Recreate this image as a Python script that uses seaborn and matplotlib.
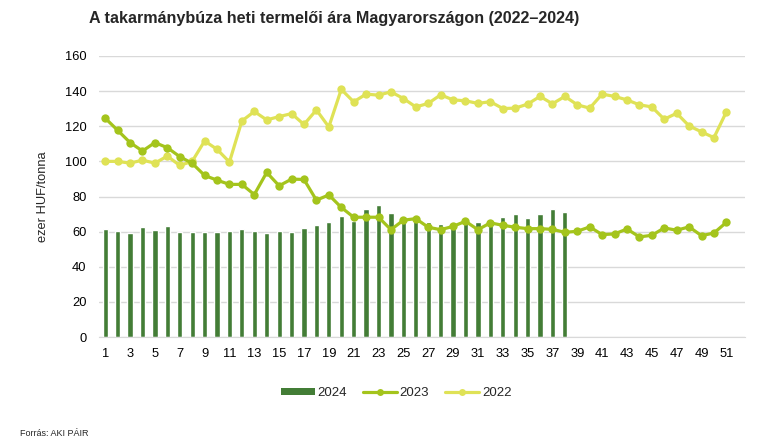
import numpy as np
import pandas as pd
import matplotlib
matplotlib.use("Agg")
import matplotlib.pyplot as plt
import seaborn as sns
from matplotlib.patches import Patch
from matplotlib.lines import Line2D

weeks_2024 = list(range(1, 39))
price_2024 = [61.7, 60.2, 59.2, 62.7, 61.1, 63.4, 59.8, 59.8, 59.6, 59.6,
              60.2, 61.7, 60.6, 59.2, 60.6, 59.6, 62.1, 64.0, 65.5, 68.8,
              66.3, 73.1, 75.0, 70.7, 66.0, 67.0, 65.3, 64.4, 62.5, 66.0,
              65.3, 65.8, 68.4, 70.1, 67.8, 70.1, 72.6, 71.3]

weeks_lines = list(range(1, 52))
price_2023 = [124.6, 117.7, 110.7, 105.9, 110.7, 107.8, 102.7, 98.9, 92.0, 89.3,
              86.9, 86.9, 81.1, 93.7, 86.1, 89.9, 89.7, 77.9, 80.9, 73.8,
              68.2, 68.2, 68.2, 61.1, 66.5, 67.4, 62.5, 61.1, 63.0, 65.9,
              61.1, 65.0, 63.6, 62.5, 61.7, 61.7, 61.3, 59.6, 60.2, 62.7,
              58.3, 58.7, 61.5, 57.0, 57.9, 62.1, 60.8, 62.7, 57.7, 59.2,
              65.3]
price_2022 = [100.0, 100.0, 99.0, 100.7, 99.0, 103.0, 97.7, 100.0, 111.6, 106.9,
              99.6, 123.0, 128.4, 123.6, 125.5, 127.2, 121.0, 129.3, 119.6, 141.0,
              133.9, 138.3, 137.7, 139.6, 135.8, 131.0, 133.0, 137.9, 135.0, 134.5,
              133.0, 134.0, 130.1, 130.3, 132.6, 137.0, 132.8, 137.0, 132.2, 130.3,
              138.3, 137.0, 135.0, 132.2, 131.0, 124.0, 127.4, 120.2, 116.8, 113.5,
              128.2]

series_labels = ["2024", "2023", "2022"]
xtick_labels = [str(w) for w in range(1, 52, 2)]

c_bar = "#437d36"
c_2023 = "#a4c41c"
c_2022 = "#dfe256"

sns.set_style("white")
plt.rcParams['font.family'] = ['Liberation Sans', 'DejaVu Sans']

fig = plt.figure(figsize=(7.77, 4.45), dpi=100)
ax = fig.add_axes([99/777, 1-337/445, (745-99)/777, (337-56)/445])

df24 = pd.DataFrame({"week": weeks_2024, "price": price_2024})
dfl = pd.DataFrame({"week": weeks_lines, "p2023": price_2023, "p2022": price_2022})

sns.barplot(data=df24, x="week", y="price", native_scale=True, width=0.42,
            color=c_bar, saturation=1, ax=ax, zorder=2)
sns.lineplot(data=dfl, x="week", y="p2022", color=c_2022, linewidth=2.3,
             marker="o", markersize=6, markeredgewidth=0, ax=ax, zorder=3)
sns.lineplot(data=dfl, x="week", y="p2023", color=c_2023, linewidth=2.3,
             marker="o", markersize=6, markeredgewidth=0, ax=ax, zorder=4)

ax.set_xlim(0.5, 52.5)
ax.set_ylim(0, 160)
ax.set_yticks(range(0, 161, 20))
ax.set_xticks(range(1, 52, 2))
ax.set_xticklabels(xtick_labels)
ax.tick_params(axis='both', length=0, labelsize=9.3, colors="#000000")
ax.tick_params(axis='x', pad=8)
ax.tick_params(axis='y', pad=9)
ax.grid(axis='y', color="#d9d9d9", linewidth=1, zorder=0)
ax.set_axisbelow(True)
for s in ["top", "right", "left"]:
    ax.spines[s].set_visible(False)
ax.spines["bottom"].set_color("#d9d9d9")
ax.set_xlabel("")
ax.set_ylabel("ezer HUF/tonna", fontsize=9.3, labelpad=11)

fig.text(89/777, 1-18/445, "A takarmánybúza heti termelői ára Magyarországon (2022–2024)",
         fontsize=11.6, fontweight="bold", ha="left", va="center")
fig.text(20/777, 1-433/445, "Forrás: AKI PÁIR", fontsize=6.5, ha="left", va="center")

handles = [
    Patch(facecolor=c_bar, edgecolor="none"),
    Line2D([0], [0], color=c_2023, linewidth=2.3, marker="o", markersize=5, markeredgewidth=0),
    Line2D([0], [0], color=c_2022, linewidth=2.3, marker="o", markersize=5, markeredgewidth=0),
]
leg = fig.legend(handles, series_labels, loc="center", bbox_to_anchor=(396/777, 1-393/445),
                 ncol=3, frameon=False, fontsize=9.5, handlelength=2.6, handleheight=0.45,
                 columnspacing=1.2, handletextpad=0.2)

fig.savefig("out.png", dpi=100)
